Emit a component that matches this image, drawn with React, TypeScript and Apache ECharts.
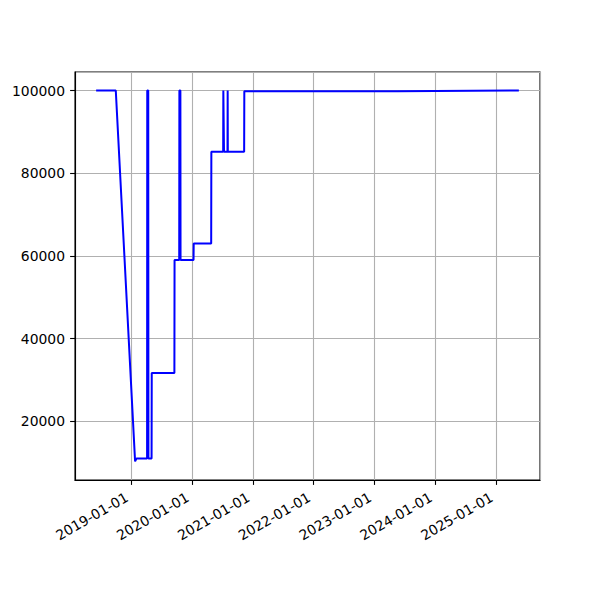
import React, { useEffect, useRef } from 'react';
import * as echarts from 'echarts';

const dates: string[] = [
  '2018-06-05', '2018-10-01', '2019-01-25', '2019-02-02', '2019-04-07', '2019-04-08',
  '2019-04-14', '2019-04-15', '2019-05-04', '2019-05-05', '2019-09-18', '2019-09-19',
  '2019-10-17', '2019-10-18', '2019-10-24', '2019-10-25', '2020-01-11', '2020-01-12',
  '2020-04-26', '2020-04-27', '2020-07-07', '2020-07-08', '2020-07-11', '2020-07-12',
  '2020-08-02', '2020-08-03', '2020-08-04', '2020-11-10', '2020-11-11', '2023-05-19',
  '2023-05-20', '2025-05-18',
];
const values: number[] = [
  100000, 100000, 10300, 11000, 11000, 100000,
  100000, 11000, 11000, 31700, 31700, 59000,
  59000, 100000, 100000, 59000, 59000, 63000,
  63000, 85200, 85200, 100000, 100000, 85200,
  85200, 100000, 85200, 85200, 99850, 99850,
  100000, 100000,
];
const yTicks: number[] = [20000, 40000, 60000, 80000, 100000];

const DAY = 86400000;
function parse(d: string): number {
  const [y, m, dd] = d.split('-').map(Number);
  return Date.UTC(y, m - 1, dd);
}
function fmt(v: number): string {
  const d = new Date(v);
  const p = (n: number) => (n < 10 ? '0' + n : '' + n);
  return d.getUTCFullYear() + '-' + p(d.getUTCMonth() + 1) + '-' + p(d.getUTCDate());
}

export default function App() {
  const ref = useRef<HTMLDivElement>(null);
  useEffect(() => {
    const chart = echarts.init(ref.current!, null, { renderer: 'svg' });
    const ts = dates.map(parse);
    const xSpan = ts[ts.length - 1] - ts[0];
    const xMin = ts[0] - 0.05 * xSpan;
    const xMax = ts[ts.length - 1] + 0.05 * xSpan;
    const vMin = Math.min(...values);
    const vMax = Math.max(...values);
    const ySpan = vMax - vMin;
    const yMin = vMin - 0.05 * ySpan;
    const yMax = vMax + 0.05 * ySpan;
    const font = 'DejaVu Sans';
    chart.setOption({
      animation: false,
      useUTC: true,
      grid: {
        left: 75, right: 60, top: 72, bottom: 120,
        show: true, borderColor: '#000', borderWidth: 1.1, backgroundColor: '#fff',
      },
      xAxis: {
        type: 'time',
        min: xMin,
        max: xMax,
        minInterval: 365 * DAY,
        maxInterval: 366 * DAY,
        splitLine: { show: true, lineStyle: { color: '#b0b0b0', width: 1.1 } },
        axisLine: { show: true, lineStyle: { color: '#000', width: 1.1 } },
        axisTick: { show: true, length: 4.9, lineStyle: { color: '#000', width: 1.1 } },
        axisLabel: {
          rotate: 30,
          formatter: (v: number) => fmt(v),
          color: '#000',
          fontFamily: font,
          fontSize: 13.9,
          margin: 13.5,
          padding: [0, 5, 0, 0],
          showMinLabel: false,
          showMaxLabel: false,
        },
      },
      yAxis: {
        type: 'value',
        min: yMin,
        max: yMax,
        splitNumber: 5,
        splitLine: { show: true, lineStyle: { color: '#b0b0b0', width: 1.1 } },
        axisLine: { show: true, lineStyle: { color: '#000', width: 1.1 } },
        axisTick: { show: true, length: 4.9, lineStyle: { color: '#000', width: 1.1 } },
        axisLabel: {
          color: '#000',
          fontFamily: font,
          fontSize: 13.9,
          margin: 10,
          showMinLabel: false,
          showMaxLabel: false,
          formatter: (v: number) => (yTicks.includes(v) ? String(v) : ''),
        },
      },
      series: [
        {
          type: 'line',
          data: ts.map((t, i) => [t, values[i]]),
          showSymbol: false,
          symbol: 'none',
          lineStyle: { color: '#0000ff', width: 2 },
          itemStyle: { color: '#0000ff' },
        },
      ],
    });
    return () => chart.dispose();
  }, []);
  return (
    <div
      ref={ref}
      style={{ width: 600, height: 600, position: 'fixed', left: 0, top: 0, background: '#fff' }}
    />
  );
}
